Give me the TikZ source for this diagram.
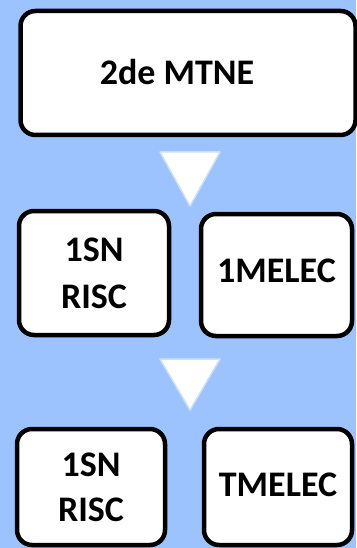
\documentclass[tikz,border=0pt]{standalone}
\usepackage{fontspec}
\setmainfont{Carlito}
\definecolor{bgblue}{RGB}{157,195,255}
\definecolor{triedge}{RGB}{205,225,240}
\tikzset{
  box/.style={draw=black, line width=4.5pt, fill=white, rounded corners=15pt,
    align=center, inner sep=0pt, font=\bfseries\fontsize{36}{45}\selectfont},
  tri/.style={fill=white, draw=triedge, line width=1.5pt, line join=round}
}
\begin{document}
\begin{tikzpicture}[x=1pt,y=-1pt]
\fill[bgblue] (0,0) rectangle (356,548);
\useasboundingbox (0,0) rectangle (356,548);
\node[box, minimum width=335pt, minimum height=124pt] (top) at (188,73) {\raisebox{3pt}{2de MTNE}\hspace*{22pt}};
\node[box, minimum width=150pt, minimum height=124pt] (ml) at (94,273) {\raisebox{2pt}{1SN}\\RISC};
\node[box, minimum width=151pt, minimum height=122pt] (mr) at (276.5,275) {\raisebox{8pt}{1MELEC}};
\node[box, minimum width=148pt, minimum height=116pt] (bl) at (91,487) {1SN\\RISC};
\node[box, minimum width=148pt, minimum height=116pt] (br) at (278,487) {\raisebox{4pt}{TMELEC}};
\draw[tri] (160,152) -- (220,152) -- (190,206) -- cycle;
\draw[tri] (160,359) -- (220,359) -- (190,410) -- cycle;
\end{tikzpicture}
\end{document}
